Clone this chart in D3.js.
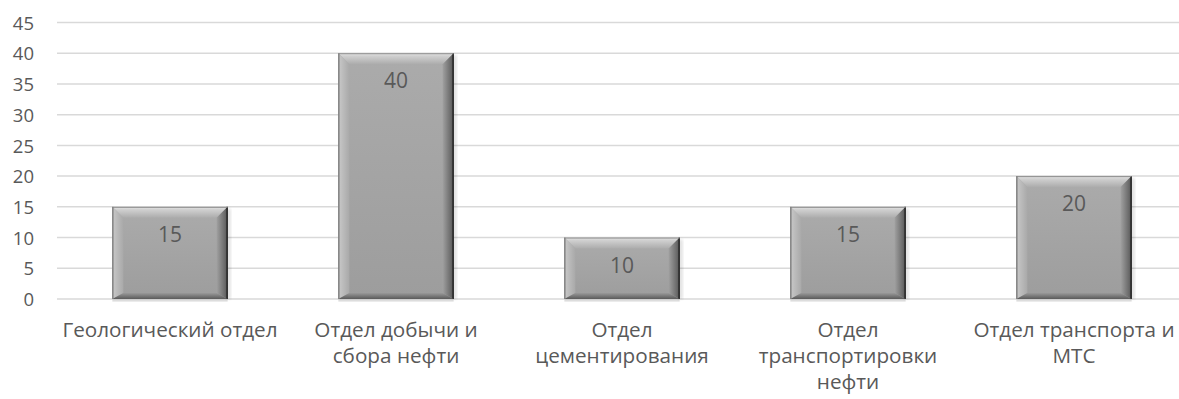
<!DOCTYPE html>
<html>
<head>
<meta charset="utf-8">
<script src="https://cdn.jsdelivr.net/npm/d3@7"></script>
<style>
  html, body { margin: 0; padding: 0; background: #fff; }
  svg { display: block; }
  text { font-family: "Open Sans", "Noto Sans", sans-serif; fill: #595959; }
</style>
</head>
<body>
<svg id="chart" width="1179" height="399"></svg>
<script>
// Staff count by department
const categories = [
  "Геологический отдел",
  "Отдел добычи и сбора нефти",
  "Отдел цементирования",
  "Отдел транспортировки нефти",
  "Отдел транспорта и МТС"
];
const categoryLines = [
  ["Геологический отдел"],
  ["Отдел добычи и", "сбора нефти"],
  ["Отдел", "цементирования"],
  ["Отдел", "транспортировки", "нефти"],
  ["Отдел транспорта и", "МТС"]
];
const values = [15, 40, 10, 15, 20];
const yTicks = [0, 5, 10, 15, 20, 25, 30, 35, 40, 45];

const svg = d3.select("#chart");
const W = 1179;
const plotLeft = 57, plotTop = 22.5, plotBottom = 299;
const step = 226;

const x = d3.scaleBand()
  .domain(categories)
  .range([plotLeft, plotLeft + step * categories.length])
  .paddingInner(0.49)
  .paddingOuter(0.245);

const y = d3.scaleLinear().domain([0, 45]).range([plotBottom, plotTop]);

// Gradients for the bevelled bars
const defs = svg.append("defs");
function grad(id, x1, y1, x2, y2, stops) {
  const g = defs.append("linearGradient").attr("id", id)
    .attr("x1", x1).attr("y1", y1).attr("x2", x2).attr("y2", y2);
  stops.forEach(s => g.append("stop").attr("offset", s[0]).attr("stop-color", s[1]));
}
grad("face", 0, 0, 0, 1, [[0, "#ababab"], [1, "#9d9d9d"]]);
grad("bevTop", 0, 0, 0, 1, [[0, "#e6e6e6"], [0.25, "#d0d0d0"], [1, "#acacac"]]);
grad("bevLeft", 0, 0, 1, 0, [[0, "#8a8a8a"], [0.15, "#c4c4c4"], [1, "#a9a9a9"]]);
grad("bevRight", 1, 0, 0, 0, [[0, "#2e2e2e"], [0.2, "#666666"], [1, "#a0a0a0"]]);
grad("bevBottom", 0, 1, 0, 0, [[0, "#5a5a5a"], [1, "#999999"]]);
grad("reflect", 0, 0, 0, 1, [[0, "#c8c8c8"], [1, "#f2f2f2"]]);
const blur = defs.append("filter").attr("id", "soft").attr("x", "-20%").attr("y", "-20%")
  .attr("width", "140%").attr("height", "140%");
blur.append("feGaussianBlur").attr("stdDeviation", 1.5);

// Gridlines
svg.append("g").selectAll("line").data(yTicks).join("line")
  .attr("x1", plotLeft).attr("x2", W)
  .attr("y1", d => y(d)).attr("y2", d => y(d))
  .attr("stroke", "#d9d9d9").attr("stroke-width", 1.5);

// Y axis labels
const yAxis = d3.axisLeft(y).tickValues(yTicks).tickSize(0).tickPadding(0);
const ya = svg.append("g").attr("transform", "translate(34,0)").call(yAxis);
ya.select(".domain").remove();
ya.selectAll("text")
  .attr("font-family", "Open Sans")
  .attr("font-size", 18.5)
  .attr("fill", "#595959")
  .attr("dy", "0.36em");

// Bars
const bt = 11, bs = 11, bb = 6;
const bars = svg.append("g").selectAll("g.bar").data(values).join("g").attr("class", "bar");
bars.each(function (v, i) {
  const g = d3.select(this);
  const x0 = x(categories[i]), w = x.bandwidth();
  const x1 = x0 + w, y0 = y(v), y1 = y(0);
  // soft reflection under the bar
  g.append("rect").attr("x", x0).attr("y", y1).attr("width", w).attr("height", 3)
    .attr("fill", "url(#reflect)");
  // right-side soft shadow
  g.append("rect").attr("x", x1 - 1).attr("y", y0 + 2).attr("width", 4).attr("height", y1 - y0 - 2)
    .attr("fill", "#000").attr("opacity", 0.12).attr("filter", "url(#soft)");
  g.append("rect").attr("x", x0).attr("y", y0).attr("width", w).attr("height", y1 - y0)
    .attr("fill", "url(#face)");
  const poly = pts => pts.map(p => p.join(",")).join(" ");
  g.append("polygon").attr("fill", "url(#bevTop)")
    .attr("points", poly([[x0, y0], [x1, y0], [x1 - bs, y0 + bt], [x0 + bs, y0 + bt]]));
  g.append("polygon").attr("fill", "url(#bevLeft)")
    .attr("points", poly([[x0, y0], [x0 + bs, y0 + bt], [x0 + bs, y1 - bb], [x0, y1]]));
  g.append("polygon").attr("fill", "url(#bevRight)")
    .attr("points", poly([[x1, y0], [x1, y1], [x1 - bs, y1 - bb], [x1 - bs, y0 + bt]]));
  g.append("polygon").attr("fill", "url(#bevBottom)")
    .attr("points", poly([[x0, y1], [x0 + bs, y1 - bb], [x1 - bs, y1 - bb], [x1, y1]]));
  g.append("line").attr("x1", x1 - 0.5).attr("x2", x1 - 0.5).attr("y1", y0).attr("y2", y1)
    .attr("stroke", "#222").attr("stroke-width", 1.2);
  g.append("line").attr("x1", x0).attr("x2", x1).attr("y1", y0 + 0.5).attr("y2", y0 + 0.5)
    .attr("stroke", "#8c8c8c").attr("stroke-width", 1);
  g.append("line").attr("x1", x0 + 0.5).attr("x2", x0 + 0.5).attr("y1", y0).attr("y2", y1)
    .attr("stroke", "#7a7a7a").attr("stroke-width", 1);
  // value label
  g.append("text")
    .attr("x", x0 + w / 2).attr("y", y0 + 35)
    .attr("text-anchor", "middle")
    .attr("font-size", 21)
    .attr("fill", "#404040")
    .text(v);
});

// Category labels
const cats = svg.append("g").selectAll("text").data(categories).join("text")
  .attr("text-anchor", "middle")
  .attr("font-size", 20.7)
  .attr("fill", "#595959")
  .attr("x", d => x(d) + x.bandwidth() / 2)
  .attr("y", 337);
cats.each(function (d, i) {
  d3.select(this).selectAll("tspan").data(categoryLines[i]).join("tspan")
    .attr("x", x(d) + x.bandwidth() / 2)
    .attr("dy", (t, j) => j === 0 ? 0 : 25.8)
    .text(t => t);
});
</script>
</body>
</html>
